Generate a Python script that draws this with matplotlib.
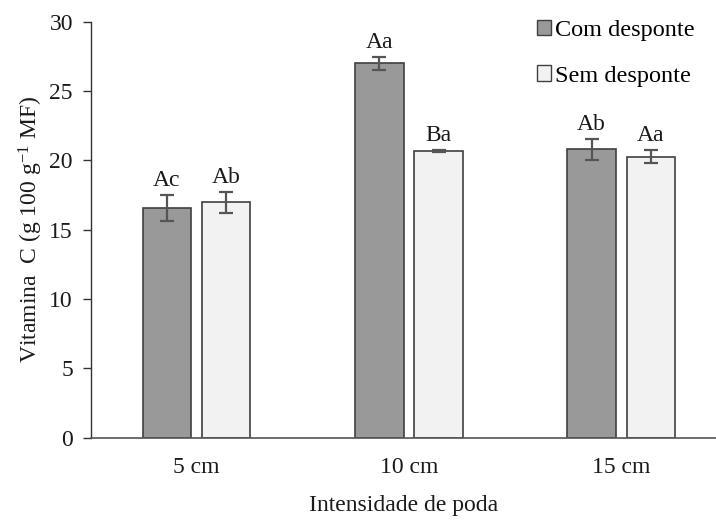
import matplotlib
matplotlib.use("Agg")
import matplotlib.pyplot as plt
import numpy as np

plt.rcParams['font.family'] = ['Liberation Serif', 'DejaVu Serif']
plt.rcParams['mathtext.fontset'] = 'custom'
plt.rcParams['mathtext.rm'] = 'Liberation Serif'
plt.rcParams['mathtext.it'] = 'Liberation Serif:italic'

categories = ['5 cm', '10 cm', '15 cm']
series_names = ['Com desponte', 'Sem desponte']
com_values = [16.58, 26.99, 20.79]
com_errors = [0.94, 0.48, 0.76]
sem_values = [16.97, 20.67, 20.26]
sem_errors = [0.76, 0.10, 0.46]
com_letters = ['Ac', 'Aa', 'Ab']
sem_letters = ['Ab', 'Ba', 'Aa']
yticks = [0, 5, 10, 15, 20, 25, 30]

FS = 17

fig = plt.figure(figsize=(7.16, 5.20), dpi=100)
ax = fig.add_axes([0.1271, 0.1583, 0.8729, 0.8000])

x = np.arange(len(categories))
w = 0.228
off = 0.1395
edge = '#404040'
errc = '#555555'
txtc = '#1a1a1a'

ax.bar(x - off, com_values, w, color='#999999', edgecolor=edge, linewidth=1.2,
       label=series_names[0], zorder=2)
ax.bar(x + off, sem_values, w, color='#f2f2f2', edgecolor=edge, linewidth=1.2,
       label=series_names[1], zorder=2)
ax.errorbar(x - off, com_values, yerr=com_errors, fmt='none', ecolor=errc,
            elinewidth=1.6, capsize=4.7, capthick=1.6, zorder=3)
ax.errorbar(x + off, sem_values, yerr=sem_errors, fmt='none', ecolor=errc,
            elinewidth=1.6, capsize=4.7, capthick=1.6, zorder=3)

for xi, v, e, t in zip(x - off, com_values, com_errors, com_letters):
    ax.annotate(t, (xi, v + e), xytext=(0, 10.5), textcoords='offset points',
                ha='center', va='center', fontsize=FS, color=txtc)
for xi, v, e, t in zip(x + off, sem_values, sem_errors, sem_letters):
    ax.annotate(t, (xi, v + e), xytext=(0, 10.5), textcoords='offset points',
                ha='center', va='center', fontsize=FS, color=txtc)

ax.set_xlim(-0.497, 2.446)
ax.set_ylim(0, 30)
ax.set_yticks(yticks)
ax.set_xticks(x)
ax.set_xticklabels(categories)
ax.tick_params(axis='x', length=0, pad=14, labelsize=FS, colors=txtc)
ax.tick_params(axis='y', length=6, width=1.0, pad=7, labelsize=FS, colors=txtc,
               direction='out')
ax.tick_params(axis='y', color='#333333')
for s in ['top', 'right']:
    ax.spines[s].set_visible(False)
ax.spines['left'].set_color('#333333')
ax.spines['bottom'].set_color('#555555')
ax.spines['left'].set_linewidth(1.0)
ax.spines['bottom'].set_linewidth(1.2)

ax.set_ylabel('Vitamina  C (g 100 g$^{-1}$ MF)', fontsize=FS, color=txtc, labelpad=3)
ax.set_xlabel('Intensidade de poda', fontsize=FS, color=txtc, labelpad=12)

leg = ax.legend(loc='upper left', bbox_to_anchor=(0.678, 1.057), frameon=False,
                fontsize=17.5, handlelength=0.6, handleheight=0.6, handletextpad=0.15,
                labelspacing=1.0)
for h in leg.legend_handles:
    h.set_linewidth(1.0)

fig.savefig('out.png', dpi=100)
